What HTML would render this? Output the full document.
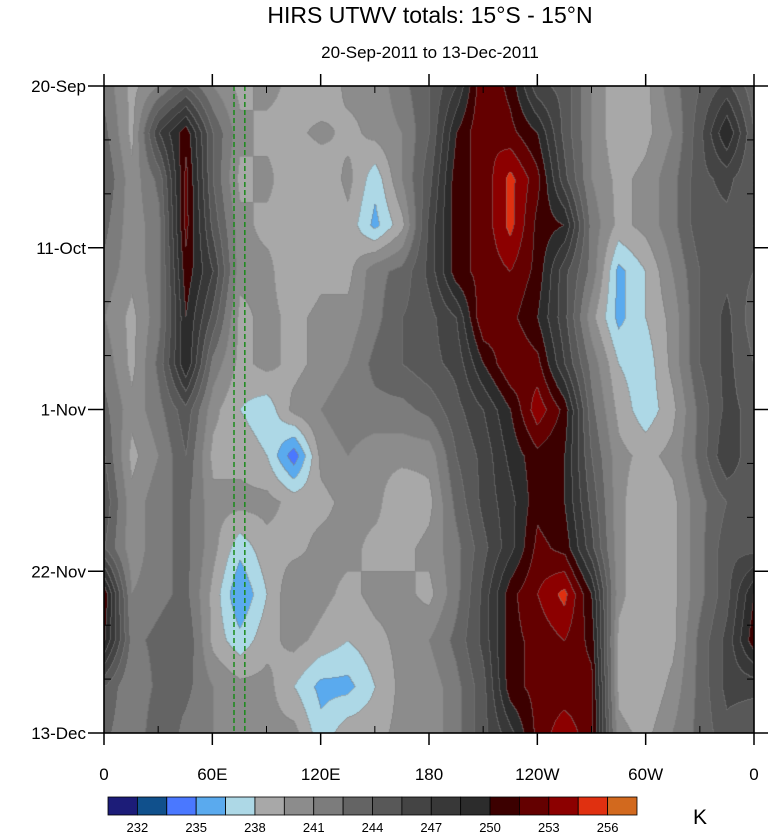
<!DOCTYPE html>
<html><head><meta charset="utf-8">
<style>
body{margin:0;background:#fff;width:772px;height:834px;overflow:hidden;font-family:"Liberation Sans",sans-serif;}
#wrap{position:relative;width:772px;height:834px;}
canvas{position:absolute;left:104px;top:86px;}
svg{position:absolute;left:0;top:0;}
</style></head><body>
<div id="wrap">
<canvas id="cv" width="650" height="647"></canvas>
<svg id="sv" width="772" height="834">
<text x="430" y="23" font-size="23" text-anchor="middle">HIRS UTWV totals: 15°S - 15°N</text>
<text x="430" y="58" font-size="17" text-anchor="middle">20-Sep-2011 to 13-Dec-2011</text>
<text x="700" y="824" font-size="21" text-anchor="middle">K</text>
</svg>
</div>
<script>
const lonTicks=[0,60,120,180,240,300,360];
const lonLabels=["0","60E","120E","180","120W","60W","0"];
const dayTicks=[0,21,42,63,84];
const dayLabels=["20-Sep","11-Oct","1-Nov","22-Nov","13-Dec"];
const levels=[232,233.5,235,236.5,238,239.5,241,242.5,244,245.5,247,248.5,250,251.5,253,254.5,256];
const levelLabels=["232","235","238","241","244","247","250","253","256"];
const colors=["#1c1c78","#10508c","#4a78ff","#5aaaee","#add8e6","#a8a8a8","#8c8c8c","#7c7c7c","#646464","#585858","#444444","#383838","#2c2c2c","#3c0000","#640000","#8c0000","#e03010","#d2691e"];
const gridLons=[0,15,30,45,60,75,90,105,120,135,150,165,180,195,210,225,240,255,270,285,300,315,330,345,360];
const gridDays=[0,6,12,18,24,30,36,42,48,54,60,66,72,78,84];
const r0=[242,239,241,244,241,239,240,239,238,240,240,242,244,247,253,251,246,245,241,238,239,242,244,246,243];
const r1=[243,239,247,251,244,240,239,239,240,239,240,241,244,250,253,252,250,245,241,238,239,241,245,250,244];
const r2=[244,240,243,252,244,239,240,238,238,240,237,241,245,251,252,255,252,246,241,239,240,242,245,246,244];
const r3=[243,240,242,252,245,240,239,239,238,239,236,239,246,251,252,255,251,250,242,239,240,242,245,245,244];
const r4=[242,240,242,251,247,240,240,238,239,239,242,243,246,251,252,253,251,246,242,236,238,241,244,245,244];
const r5=[241,239,242,250,245,239,240,239,240,240,242,244,245,247,253,252,250,246,240,236,238,240,244,246,243];
const r6=[242,239,243,250,242,239,240,239,240,241,243,244,245,246,250,253,252,247,242,238,237,240,244,246,244];
const r7=[243,240,242,245,240,238,237,240,241,242,242,242,243,245,247,250,254,251,243,239,237,239,243,246,245];
const r8=[244,239,241,244,239,239,238,234,240,241,240,240,240,244,246,249,251,250,244,240,239,240,243,247,244];
const r9=[245,240,242,243,240,240,240,239,239,240,240,238,239,243,246,248,251,250,245,240,238,239,242,244,245];
const r10=[244,240,242,243,240,237,239,239,240,240,239,239,240,242,245,248,252,251,246,240,238,239,242,245,245];
const r11=[251,241,242,243,239,235,238,241,240,239,240,240,239,242,246,251,253,255,250,240,238,239,242,245,250];
const r12=[250,242,243,244,239,237,239,240,239,238,239,240,241,243,246,251,252,253,251,239,238,239,243,246,251];
const r13=[244,241,243,243,241,240,240,238,236,236,238,240,240,242,245,251,252,252,252,239,238,240,243,246,246];
const r14=[243,241,244,242,241,240,240,240,237,239,239,240,240,242,245,248,252,254,252,240,239,241,243,245,244];
const rows=[r0,r1,r2,r3,r4,r5,r6,r7,r8,r9,r10,r11,r12,r13,r14];

const PX=104,PY=86,PW=650,PH=647;
const xS=l=>PX+l/360*PW;
const yS=d=>PY+d/84*PH;
function hex(c){return [parseInt(c.slice(1,3),16),parseInt(c.slice(3,5),16),parseInt(c.slice(5,7),16)];}
const rgb=colors.map(hex);
function colorIdx(v){let i=0;while(i<levels.length&&v>=levels[i])i++;return i;}
const cv=document.getElementById('cv'),ctx=cv.getContext('2d');
const img=ctx.createImageData(PW,PH);
const nC=gridLons.length-1,nR=gridDays.length-1;
const idxs=new Int16Array(PW*PH);
for(let py=0;py<PH;py++){
  const d=py/(PH-1)*84;
  let j=0;while(j<nR-1&&d>gridDays[j+1])j++;
  const sy=(d-gridDays[j])/(gridDays[j+1]-gridDays[j]);
  for(let px=0;px<PW;px++){
    const l=px/(PW-1)*360;
    let i=0;while(i<nC-1&&l>gridLons[i+1])i++;
    const sx=(l-gridLons[i])/(gridLons[i+1]-gridLons[i]);
    const a=rows[j][i],b=rows[j][i+1],c=rows[j+1][i],e=rows[j+1][i+1];
    const v=(a*(1-sx)+b*sx)*(1-sy)+(c*(1-sx)+e*sx)*sy;
    idxs[py*PW+px]=colorIdx(v);
  }
}
for(let py=0;py<PH;py++)for(let px=0;px<PW;px++){
  const n=py*PW+px,ci=idxs[n];
  let col=rgb[ci];
  const edge=(px>0&&idxs[n-1]!==ci)||(py>0&&idxs[n-PW]!==ci);
  const k=n*4;
  if(edge){img.data[k]=(col[0]+128)/2;img.data[k+1]=(col[1]+128)/2;img.data[k+2]=(col[2]+128)/2;}
  else{img.data[k]=col[0];img.data[k+1]=col[1];img.data[k+2]=col[2];}
  img.data[k+3]=255;
}
ctx.putImageData(img,0,0);
const sv=document.getElementById('sv'),NS='http://www.w3.org/2000/svg';
function mk(t,a,p){const e=document.createElementNS(NS,t);for(const k in a)e.setAttribute(k,a[k]);(p||sv).appendChild(e);return e;}
[72,78].forEach(l=>{
  const g=mk('line',{x1:xS(l),x2:xS(l),y1:PY,y2:PY+PH,stroke:'#1a8a1a','stroke-width':1.5,'stroke-dasharray':'5,3'});
  
  
});
const fr=mk('rect',{x:PX,y:PY,width:PW,height:PH,fill:'none',stroke:'#000','stroke-width':1.6});


dayTicks.forEach((d,i)=>{
  const y=yS(d);
  mk('line',{x1:PX-16,x2:PX,y1:y,y2:y,stroke:'#000','stroke-width':1.5});
  mk('line',{x1:PX+PW,x2:PX+PW+14,y1:y,y2:y,stroke:'#000','stroke-width':1.5});
  const t=mk('text',{x:PX-18,y:y+6,'font-size':17,'text-anchor':'end'});t.textContent=dayLabels[i];
  
  
});
for(let d=7;d<84;d+=7){if(d%21===0)continue;const y=yS(d);
  mk('line',{x1:PX,x2:PX+7,y1:y,y2:y,stroke:'#000','stroke-width':1});
  mk('line',{x1:PX+PW-7,x2:PX+PW,y1:y,y2:y,stroke:'#000','stroke-width':1});}
lonTicks.forEach((l,i)=>{
  const x=xS(l);
  mk('line',{x1:x,x2:x,y1:PY+PH,y2:PY+PH+12,stroke:'#000','stroke-width':1.5});
  mk('line',{x1:x,x2:x,y1:PY-12,y2:PY,stroke:'#000','stroke-width':1.5});
  const t=mk('text',{x:x,y:780,'font-size':17,'text-anchor':'middle'});t.textContent=lonLabels[i];
  
  
});
for(let l=30;l<360;l+=60){const x=xS(l);
  mk('line',{x1:x,x2:x,y1:PY+PH-7,y2:PY+PH,stroke:'#000','stroke-width':1});
  mk('line',{x1:x,x2:x,y1:PY,y2:PY+7,stroke:'#000','stroke-width':1});}
const CX=108,CW=529,CY=797,CH=18,bw=CW/colors.length;
colors.forEach((c,i)=>{
  const r=mk('rect',{x:CX+i*bw,y:CY,width:bw,height:CH,fill:c,stroke:'#000','stroke-width':0.8});
  
  
});
levelLabels.forEach((s,i)=>{
  const t=mk('text',{x:CX+(1+2*i)*bw,y:832,'font-size':13,'text-anchor':'middle'});t.textContent=s;
  
  
});
</script>
</body></html>
